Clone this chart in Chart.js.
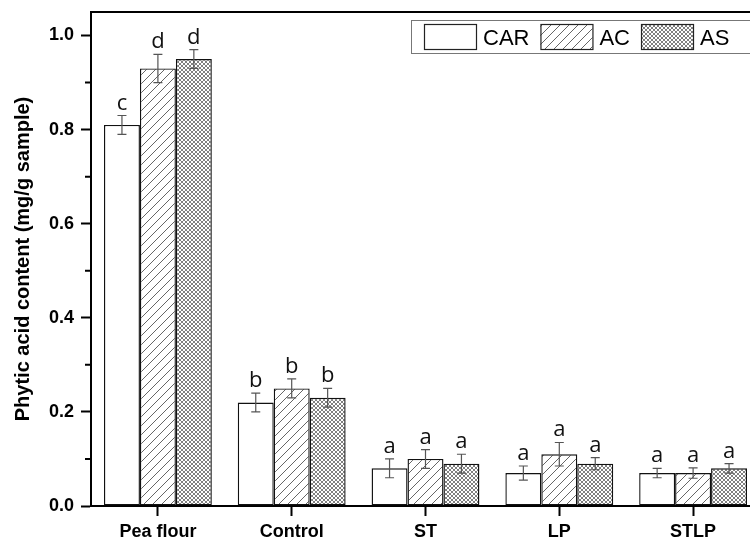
<!DOCTYPE html>
<html>
<head>
<meta charset="utf-8">
<script src="https://cdn.jsdelivr.net/npm/chart.js@4.4.1/dist/chart.umd.min.js"></script>
<style>
html, body { margin: 0; padding: 0; background: #fff; overflow: hidden; }
#wrap { width: 750px; height: 538px; overflow: hidden; }
#box { width: 770px; height: 538px; position: relative; }
</style>
</head>
<body>
<div id="wrap"><div id="box"><canvas id="c"></canvas></div></div>
<script>
// categories and series
var categories = ['Pea flour', 'Control', 'ST', 'LP', 'STLP'];
var seriesNames = ['CAR', 'AC', 'AS'];

var carValues = [0.81, 0.22, 0.08, 0.07, 0.07];
var carErrors = [0.02, 0.02, 0.02, 0.015, 0.01];
var carLetters = ['c', 'b', 'a', 'a', 'a'];

var acValues = [0.93, 0.25, 0.10, 0.11, 0.07];
var acErrors = [0.03, 0.02, 0.02, 0.025, 0.011];
var acLetters = ['d', 'b', 'a', 'a', 'a'];

var asValues = [0.95, 0.23, 0.09, 0.09, 0.08];
var asErrors = [0.02, 0.02, 0.02, 0.013, 0.01];
var asLetters = ['d', 'b', 'a', 'a', 'a'];

var yMin = 0;
var yMax = 1.05;
var yStep = 0.2;
var yMinorTicks = [0.1, 0.3, 0.5, 0.7, 0.9];

var AXIS_FONT = '"Liberation Sans", Arial, sans-serif';

function hatchPattern() {
    var t = document.createElement('canvas');
    t.width = 9; t.height = 9;
    var g = t.getContext('2d');
    g.fillStyle = '#fff';
    g.fillRect(0, 0, 9, 9);
    g.strokeStyle = '#666';
    g.lineWidth = 1;
    g.beginPath();
    g.moveTo(-1, 10); g.lineTo(10, -1);
    g.moveTo(-5.5, 5.5); g.lineTo(5.5, -5.5);
    g.moveTo(3.5, 14.5); g.lineTo(14.5, 3.5);
    g.stroke();
    return g.createPattern(t, 'repeat');
}

function crossPattern() {
    var t = document.createElement('canvas');
    t.width = 4; t.height = 4;
    var g = t.getContext('2d');
    g.fillStyle = '#fff';
    g.fillRect(0, 0, 4, 4);
    g.strokeStyle = '#555';
    g.lineWidth = 0.75;
    g.beginPath();
    g.moveTo(0, 4); g.lineTo(4, 0);
    g.moveTo(0, 0); g.lineTo(4, 4);
    g.stroke();
    return g.createPattern(t, 'repeat');
}

var fills = ['#ffffff', hatchPattern(), crossPattern()];
var errors = [carErrors, acErrors, asErrors];
var letters = [carLetters, acLetters, asLetters];

function barSet(label, data, fill) {
    return {
        label: label, data: data, backgroundColor: fill,
        borderColor: '#111', borderWidth: 1.4, borderSkipped: false,
        categoryPercentage: 0.806, barPercentage: 1.0
    };
}

// error bars, significance letters, minor ticks, top frame and the boxed legend
var decorations = {
    id: 'decorations',
    afterDatasetsDraw: function(chart) {
        var ctx = chart.ctx;
        var y = chart.scales.y;
        var area = chart.chartArea;
        ctx.save();

        chart.data.datasets.forEach(function(ds, i) {
            var meta = chart.getDatasetMeta(i);
            meta.data.forEach(function(bar, j) {
                var v = ds.data[j], e = errors[i][j];
                var top = y.getPixelForValue(v + e);
                var bot = y.getPixelForValue(v - e);
                ctx.strokeStyle = '#555';
                ctx.lineWidth = 1.2;
                ctx.beginPath();
                ctx.moveTo(bar.x, top); ctx.lineTo(bar.x, bot);
                ctx.moveTo(bar.x - 4.5, top); ctx.lineTo(bar.x + 4.5, top);
                ctx.moveTo(bar.x - 4.5, bot); ctx.lineTo(bar.x + 4.5, bot);
                ctx.stroke();

                ctx.fillStyle = '#111';
                ctx.font = '22px "Open Sans", "Noto Sans", sans-serif';
                ctx.textAlign = 'center';
                ctx.textBaseline = 'alphabetic';
                ctx.fillText(letters[i][j], bar.x, top - 6);
            });
        });

        ctx.strokeStyle = '#000';
        ctx.lineWidth = 2;
        ctx.beginPath();
        yMinorTicks.forEach(function(v) {
            var p = y.getPixelForValue(v);
            ctx.moveTo(area.left - 6, p); ctx.lineTo(area.left, p);
        });
        ctx.moveTo(area.left - 1, area.top); ctx.lineTo(chart.width, area.top);
        ctx.stroke();

        // legend
        ctx.strokeStyle = '#777';
        ctx.lineWidth = 1;
        ctx.fillStyle = '#fff';
        ctx.fillRect(412, 20, 400, 33);
        ctx.strokeRect(411.5, 20.5, 400, 33);
        ctx.font = '22px ' + AXIS_FONT;
        ctx.textAlign = 'left';
        ctx.textBaseline = 'alphabetic';
        var x = 424;
        chart.data.datasets.forEach(function(ds) {
            ctx.fillStyle = ds.backgroundColor;
            ctx.fillRect(x, 24, 52, 25);
            ctx.strokeStyle = '#222';
            ctx.lineWidth = 1.2;
            ctx.strokeRect(x + 0.5, 24.5, 52, 25);
            ctx.fillStyle = '#000';
            ctx.fillText(ds.label, x + 59, 44.5);
            x += 59 + ctx.measureText(ds.label).width + 11;
        });
        ctx.restore();
    }
};

new Chart(document.getElementById('c'), {
    type: 'bar',
    data: {
        labels: categories,
        datasets: [
            barSet(seriesNames[0], carValues, fills[0]),
            barSet(seriesNames[1], acValues, fills[1]),
            barSet(seriesNames[2], asValues, fills[2])
        ]
    },
    options: {
        responsive: true, maintainAspectRatio: false, animation: false,
        layout: { padding: { top: 12, right: 10, left: 0, bottom: 0 } },
        plugins: { legend: { display: false }, tooltip: { enabled: false } },
        scales: {
            x: {
                offset: true,
                grid: { offset: false, drawOnChartArea: false, drawTicks: true, tickLength: 10, tickWidth: 2, tickColor: '#000' },
                border: { display: true, color: '#000', width: 2 },
                ticks: { color: '#000', padding: 5, font: { family: AXIS_FONT, size: 18, weight: 'bold' } },
                afterFit: function(s) { s.height = 32; s.paddingLeft = 0; s.paddingRight = 0; }
            },
            y: {
                min: yMin, max: yMax,
                grid: { drawOnChartArea: false, drawTicks: true, tickLength: 10, tickWidth: 2, tickColor: '#000' },
                border: { display: true, color: '#000', width: 2 },
                ticks: {
                    stepSize: yStep, includeBounds: false, color: '#000', padding: 7,
                    font: { family: AXIS_FONT, size: 18, weight: 'bold' },
                    callback: function(v) { return v.toFixed(1); }
                },
                title: {
                    display: true, text: 'Phytic acid content (mg/g sample)', color: '#000',
                    font: { family: AXIS_FONT, size: 20, weight: 'bold' }, padding: { top: 11, bottom: 0 }
                },
                afterFit: function(s) { s.width = 91; s.paddingTop = 0; s.paddingBottom = 0; }
            }
        }
    },
    plugins: [decorations]
});
</script>
</body>
</html>
